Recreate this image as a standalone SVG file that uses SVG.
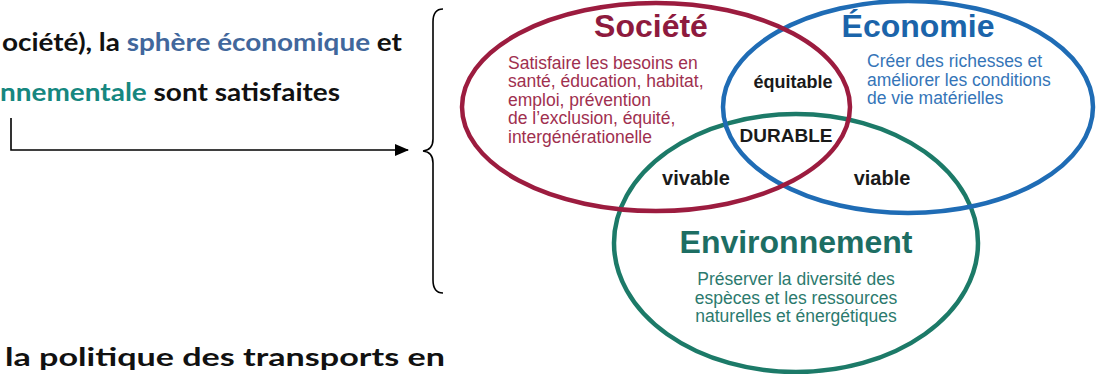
<svg xmlns="http://www.w3.org/2000/svg" width="1100" height="374" viewBox="0 0 1100 374">
<style>
.lt{font-family:Lato,"Open Sans","Liberation Sans",sans-serif;font-weight:700;font-size:25px;fill:#111}
.title{font-family:"Liberation Sans",Arial,sans-serif;font-weight:700;font-size:32px;text-anchor:middle}
.body{font-family:"Liberation Sans",Arial,sans-serif;font-size:17.5px}
.lbl{font-family:"Liberation Sans",Arial,sans-serif;font-weight:700;fill:#1a1a1a;text-anchor:middle}
.ring{fill:none;stroke-width:4.5}
.line{fill:none;stroke:#000;stroke-width:1.6}
</style>
<defs>
<marker id="ah" markerWidth="14" markerHeight="12" refX="13" refY="6" orient="auto" markerUnits="userSpaceOnUse">
<path d="M0,0 L14,6 L0,12 Z" fill="#000"/>
</marker>
</defs>
<rect width="1100" height="374" fill="#fff"/>
<g id="left-text">
<text class="lt" x="2" y="51" textLength="400" lengthAdjust="spacingAndGlyphs">ociété), la <tspan fill="#41679c">sphère économique</tspan> et</text>
<text class="lt" x="0" y="101" textLength="340" lengthAdjust="spacingAndGlyphs"><tspan fill="#16877f">nnementale</tspan> sont satisfaites</text>
<text class="lt" x="5" y="366" textLength="440" lengthAdjust="spacingAndGlyphs">la politique des transports en</text>
</g>
<g id="connectors">
<path class="line" d="M11,118 V150 H408" marker-end="url(#ah)"/>
<path class="line" d="M443,9 Q433,9 433,22 L433,139 Q433,150 423,151 Q433,152 433,163 L433,280 Q433,293 443,293"/>
</g>
<g id="environnement">
<ellipse class="ring" cx="796" cy="243" rx="182" ry="129" stroke="#1c7a68"/>
<text class="title" x="796" y="253" fill="#1d6e63">Environnement</text>
<text class="body" text-anchor="middle" fill="#2c7a6e"><tspan x="796" y="285">Préserver la diversité des</tspan><tspan x="796" y="303.5">espèces et les ressources</tspan><tspan x="796" y="322">naturelles et énergétiques</tspan></text>
</g>
<g id="economie">
<ellipse class="ring" cx="908" cy="107" rx="185" ry="106" stroke="#1f6cb5"/>
<text class="title" x="918" y="37" fill="#1b64aa">Économie</text>
<text class="body" fill="#3575b8"><tspan x="867" y="67">Créer des richesses et</tspan><tspan x="867" y="85.5">améliorer les conditions</tspan><tspan x="867" y="104">de vie matérielles</tspan></text>
</g>
<g id="societe">
<ellipse class="ring" cx="656" cy="107" rx="194" ry="104" stroke="#9c1c3f"/>
<text class="title" x="651" y="37" fill="#8e1a3e">Société</text>
<text class="body" fill="#a0304f"><tspan x="508" y="68.5">Satisfaire les besoins en</tspan><tspan x="508" y="87">santé, éducation, habitat,</tspan><tspan x="508" y="105.5">emploi, prévention</tspan><tspan x="508" y="124">de l’exclusion, équité,</tspan><tspan x="508" y="142.5">intergénérationelle</tspan></text>
</g>
<g id="labels">
<text class="lbl" x="793" y="88" font-size="18">équitable</text>
<text class="lbl" x="786" y="142" font-size="19">DURABLE</text>
<text class="lbl" x="696" y="185" font-size="20">vivable</text>
<text class="lbl" x="882" y="185" font-size="20">viable</text>
</g>
</svg>
